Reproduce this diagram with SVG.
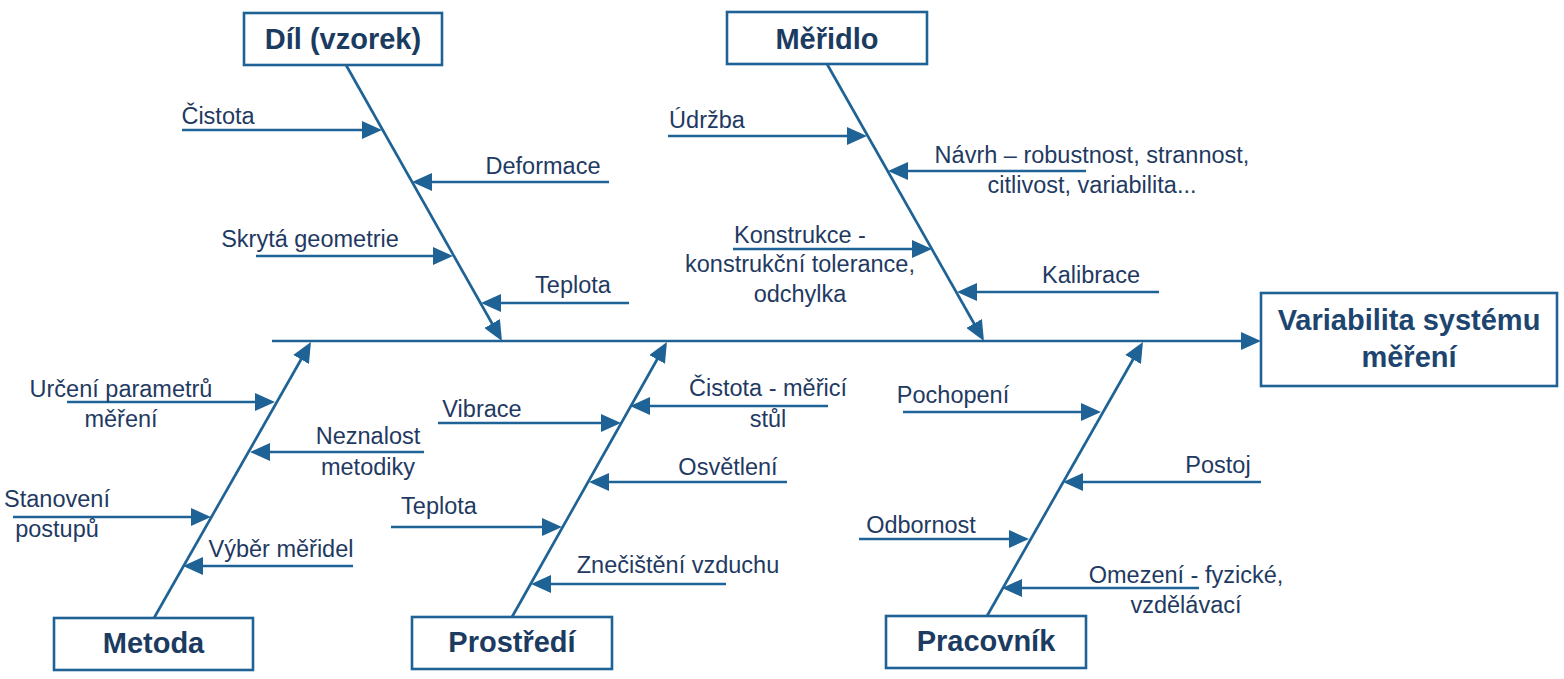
<svg xmlns="http://www.w3.org/2000/svg" width="1564" height="679" viewBox="0 0 1564 679">
  <defs>
    <marker id="ah" viewBox="0 0 20 18" refX="12" refY="9" markerWidth="20" markerHeight="18" markerUnits="userSpaceOnUse" orient="auto">
      <path d="M0,0 L20,9 L0,18 z" fill="#1f6396"/>
    </marker>
    <style>
      .box { fill: #ffffff; stroke: #1f6396; stroke-width: 2.6; }
      .ttl { font-family: "Liberation Sans", Arial, sans-serif; font-size: 29px; font-weight: bold; fill: #1b3b60; text-anchor: middle; }
      .lbl { font-family: "Liberation Sans", Arial, sans-serif; font-size: 23.5px; fill: #1f3a62; text-anchor: middle; }
      .ln { fill: none; stroke: #1f6396; stroke-width: 2.7; marker-end: url(#ah); }
    </style>
  </defs>
  <rect width="1564" height="679" fill="#ffffff"/>

  <g id="connectors">
    <!-- spine -->
    <path class="ln" d="M272,341 H1253"/>
    <!-- bones -->
    <path class="ln" d="M346,65 L498,334"/>
    <path class="ln" d="M827,64 L980,334"/>
    <path class="ln" d="M154,618 L307,349"/>
    <path class="ln" d="M512,617 L663,349"/>
    <path class="ln" d="M987,616 L1139,349"/>
    <!-- Díl branches -->
    <path class="ln" d="M182,130 H374"/>
    <path class="ln" d="M609,182 H420"/>
    <path class="ln" d="M256,256 H445"/>
    <path class="ln" d="M629,303 H489"/>
    <!-- Měřidlo branches -->
    <path class="ln" d="M668,136 H859"/>
    <path class="ln" d="M1086,171 H896"/>
    <path class="ln" d="M733,249 H924"/>
    <path class="ln" d="M1159,292 H965"/>
    <!-- Metoda branches -->
    <path class="ln" d="M67,402 H267"/>
    <path class="ln" d="M424,452 H258"/>
    <path class="ln" d="M13,517 H203"/>
    <path class="ln" d="M353,566 H191"/>
    <!-- Prostředí branches -->
    <path class="ln" d="M438,423 H613"/>
    <path class="ln" d="M828,406 H638"/>
    <path class="ln" d="M787,482 H597"/>
    <path class="ln" d="M391,527 H554"/>
    <path class="ln" d="M726,584 H539"/>
    <!-- Pracovník branches -->
    <path class="ln" d="M903,412 H1093"/>
    <path class="ln" d="M1261,482 H1071"/>
    <path class="ln" d="M859,539 H1021"/>
    <path class="ln" d="M1199,588 H1010"/>
  </g>

  <g id="node-dil">
    <rect class="box" x="244" y="13" width="198" height="52"/>
    <text class="ttl" x="343" y="49">Díl (vzorek)</text>
  </g>
  <g id="node-meridlo">
    <rect class="box" x="727" y="12" width="200" height="52"/>
    <text class="ttl" x="827" y="48.5">Měřidlo</text>
  </g>
  <g id="node-variabilita">
    <rect class="box" x="1261" y="293" width="296" height="93"/>
    <text class="ttl" x="1409" y="330" style="fill:#1d4570">Variabilita systému</text>
    <text class="ttl" x="1409" y="367" style="fill:#1d4570">měření</text>
  </g>
  <g id="node-metoda">
    <rect class="box" x="54" y="618" width="199" height="52"/>
    <text class="ttl" x="153.5" y="653">Metoda</text>
  </g>
  <g id="node-prostredi">
    <rect class="box" x="412" y="617" width="200" height="52"/>
    <text class="ttl" x="512" y="652">Prostředí</text>
  </g>
  <g id="node-pracovnik">
    <rect class="box" x="886" y="616" width="200" height="52"/>
    <text class="ttl" x="986" y="651">Pracovník</text>
  </g>

  <g id="labels">
    <text class="lbl" x="218" y="124">Čistota</text>
    <text class="lbl" x="543" y="174">Deformace</text>
    <text class="lbl" x="310" y="247">Skrytá geometrie</text>
    <text class="lbl" x="573" y="293">Teplota</text>

    <text class="lbl" x="707" y="128">Údržba</text>
    <text class="lbl" x="1092" y="163">Návrh – robustnost, strannost,</text>
    <text class="lbl" x="1092" y="193">citlivost, variabilita...</text>
    <text class="lbl" x="800" y="243">Konstrukce -</text>
    <text class="lbl" x="800" y="272">konstrukční tolerance,</text>
    <text class="lbl" x="800" y="302">odchylka</text>
    <text class="lbl" x="1091" y="283">Kalibrace</text>

    <text class="lbl" x="121" y="397">Určení parametrů</text>
    <text class="lbl" x="121" y="427">měření</text>
    <text class="lbl" x="368" y="444">Neznalost</text>
    <text class="lbl" x="368" y="475">metodiky</text>
    <text class="lbl" x="57" y="506.5">Stanovení</text>
    <text class="lbl" x="57" y="536.5">postupů</text>
    <text class="lbl" x="281" y="557">Výběr měřidel</text>

    <text class="lbl" x="482" y="417">Vibrace</text>
    <text class="lbl" x="768" y="396">Čistota - měřicí</text>
    <text class="lbl" x="768" y="427">stůl</text>
    <text class="lbl" x="728" y="475">Osvětlení</text>
    <text class="lbl" x="439" y="514">Teplota</text>
    <text class="lbl" x="678" y="573">Znečištění vzduchu</text>

    <text class="lbl" x="953" y="403">Pochopení</text>
    <text class="lbl" x="1218" y="473">Postoj</text>
    <text class="lbl" x="921" y="533">Odbornost</text>
    <text class="lbl" x="1186" y="583">Omezení - fyzické,</text>
    <text class="lbl" x="1186" y="613">vzdělávací</text>
  </g>
</svg>
